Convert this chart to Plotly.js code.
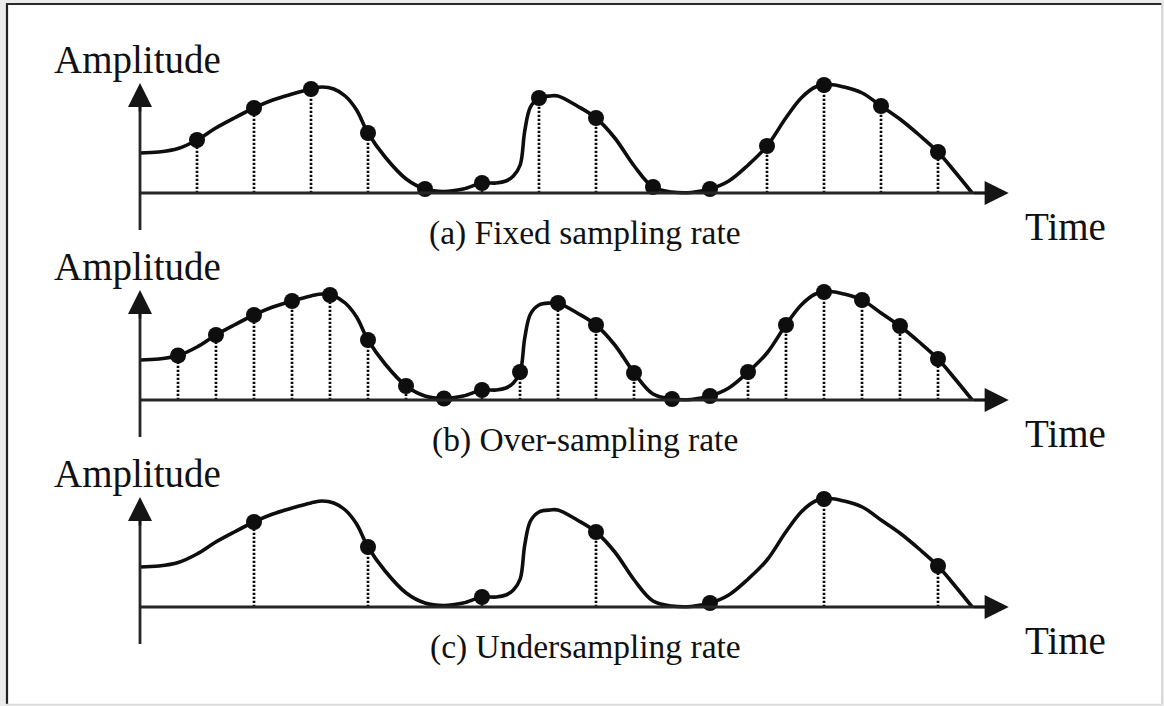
<!DOCTYPE html>
<html><head><meta charset="utf-8">
<script src="https://cdn.plot.ly/plotly-3.0.1.min.js"></script>
<style>html,body{margin:0;padding:0;background:#ececec}#chart{width:1164px;height:706px}</style>
</head><body><div id="chart"></div>
<script>
// ---- data ----
const curveTime = [0, 0.33, 0.67, 1, 1.33, 1.67, 2, 2.33, 2.67, 3, 3.2, 3.4, 3.6, 3.8, 4, 4.3, 4.67, 5, 5.33, 5.67, 6, 6.25, 6.42, 6.55, 6.67, 6.75, 6.85, 7, 7.2, 7.33, 7.67, 8, 8.33, 8.67, 9, 9.33, 9.67, 10, 10.33, 10.67, 11, 11.33, 11.6, 11.85, 12.1, 12.35, 12.67, 13, 13.33, 13.67, 14, 14.3, 14.6];
const curveAmp  = [0.40, 0.41, 0.445, 0.53, 0.65, 0.755, 0.85, 0.93, 0.99, 1.04, 1.06, 1.04, 0.97, 0.83, 0.60, 0.36, 0.14, 0.04, 0.015, 0.04, 0.10, 0.10, 0.12, 0.17, 0.28, 0.62, 0.86, 0.95, 0.97, 0.97, 0.87, 0.75, 0.55, 0.27, 0.06, 0.01, 0.005, 0.04, 0.12, 0.28, 0.47, 0.75, 0.95, 1.06, 1.085, 1.06, 1.00, 0.87, 0.74, 0.58, 0.41, 0.21, 0];

const fixedTime = [1, 2, 3, 4, 5, 6, 7, 8, 9, 10, 11, 12, 13, 14];
const fixedAmp  = [0.53, 0.85, 1.04, 0.60, 0.04, 0.10, 0.95, 0.75, 0.06, 0.04, 0.47, 1.08, 0.87, 0.41];

const overTime = [0.667, 1.333, 2, 2.667, 3.333, 4, 4.667, 5.333, 6, 6.667, 7.333, 8, 8.667, 9.333, 10, 10.667, 11.333, 12, 12.667, 13.333, 14];
const overAmp  = [0.445, 0.65, 0.85, 0.99, 1.05, 0.60, 0.14, 0.015, 0.10, 0.28, 0.97, 0.75, 0.27, 0.01, 0.04, 0.28, 0.75, 1.08, 1.00, 0.74, 0.41];

const underTime = [2, 4, 6, 8, 10, 12, 14];
const underAmp  = [0.85, 0.60, 0.10, 0.75, 0.04, 1.08, 0.41];

const panelCaptions = ["(a) Fixed sampling rate", "(b) Over-sampling rate", "(c) Undersampling rate"];
const yAxisLabel = "Amplitude";
const xAxisLabel = "Time";

// ---- drawing ----
const W = 1164, H = 706;
const ink = '#111111';
const axisInk = '#262626';
const fontFam = 'Liberation Serif, Times New Roman, serif';

const panels = [
  {t: fixedTime, a: fixedAmp, dom: [0.655807, 0.932011]},
  {t: overTime,  a: overAmp,  dom: [0.362606, 0.638810]},
  {t: underTime, a: underAmp, dom: [0.069405, 0.345609]}
];

const traces = [];
const shapes = [];
const annotations = [];
const layout = {
  width: W, height: H,
  margin: {l: 0, r: 0, t: 0, b: 0},
  paper_bgcolor: '#ececec',
  plot_bgcolor: 'rgba(0,0,0,0)',
  showlegend: false,
  font: {family: fontFam, color: ink}
};

// frame
shapes.push({type: 'rect', xref: 'paper', yref: 'paper', x0: 6/W, x1: 1162/W, y0: 1 - 704/H, y1: 1 - 3/H,
  fillcolor: '#ffffff', line: {width: 0}, layer: 'below'});
shapes.push({type: 'line', xref: 'paper', yref: 'paper', x0: 7/W, x1: 7/W, y0: 1 - 704/H, y1: 1 - 3/H,
  line: {color: '#222', width: 2.2}, layer: 'below'});
shapes.push({type: 'line', xref: 'paper', yref: 'paper', x0: 6/W, x1: 1162/W, y0: 1 - 4/H, y1: 1 - 4/H,
  line: {color: '#2a2a2a', width: 2.2}, layer: 'below'});
shapes.push({type: 'line', xref: 'paper', yref: 'paper', x0: 1162/W, x1: 1162/W, y0: 1 - 704/H, y1: 1 - 3/H,
  line: {color: '#cfcfcf', width: 1.5}, layer: 'below'});
shapes.push({type: 'line', xref: 'paper', yref: 'paper', x0: 6/W, x1: 1162/W, y0: 1 - 704.5/H, y1: 1 - 704.5/H,
  line: {color: '#d9d9d9', width: 1.5}, layer: 'below'});

const tMin = -140/57, tMax = tMin + W/57;

panels.forEach((p, i) => {
  const n = i === 0 ? '' : String(i + 1);
  const xa = 'x' + n, ya = 'y' + n;
  layout['xaxis' + n] = {domain: [0, 1], range: [tMin, tMax], visible: false, fixedrange: true};
  layout['yaxis' + n] = {domain: p.dom, range: [-0.5, 1.45], visible: false, fixedrange: true};

  // dotted stems
  const sx = [], sy = [];
  p.t.forEach((t, k) => { sx.push(t, t, null); sy.push(0, p.a[k], null); });
  traces.push({x: sx, y: sy, xaxis: xa, yaxis: ya, mode: 'lines', hoverinfo: 'skip',
    line: {color: '#0c0c0c', width: 2.7, dash: '2.2px,1.8px'}});

  // continuous signal
  traces.push({x: curveTime, y: curveAmp, xaxis: xa, yaxis: ya, mode: 'lines', hoverinfo: 'skip',
    line: {color: '#0e0e0e', width: 3.6, shape: 'spline', smoothing: 1.0}});

  // samples
  traces.push({x: p.t, y: p.a, xaxis: xa, yaxis: ya, mode: 'markers', hoverinfo: 'skip',
    marker: {color: '#0e0e0e', size: 16, line: {width: 0}}});

  // axes lines
  shapes.push({type: 'line', xref: xa, yref: ya, x0: 0, x1: 15.0, y0: 0, y1: 0,
    line: {color: axisInk, width: 2.8}});
  shapes.push({type: 'line', xref: xa, yref: ya, x0: 0, x1: 0, y0: -0.37, y1: 1.0,
    line: {color: axisInk, width: 2.8}});

  // arrow heads
  annotations.push({xref: xa, yref: ya, axref: xa, ayref: ya, x: 15.24, y: 0, ax: 14.6, ay: 0,
    text: '', showarrow: true, arrowhead: 2, arrowsize: 1.85, arrowwidth: 2.6, arrowcolor: '#151515', standoff: 0});
  annotations.push({xref: xa, yref: ya, axref: xa, ayref: ya, x: 0, y: 1.10, ax: 0, ay: 0.8,
    text: '', showarrow: true, arrowhead: 2, arrowsize: 1.85, arrowwidth: 2.6, arrowcolor: '#151515', standoff: 0});

  // labels
  annotations.push({xref: xa, yref: ya, x: -1.544, y: 1.332, xanchor: 'left', yanchor: 'middle',
    text: yAxisLabel, showarrow: false, font: {family: fontFam, size: 39, color: ink}});
  annotations.push({xref: xa, yref: ya, x: 15.49, y: -0.338, xanchor: 'left', yanchor: 'middle',
    text: xAxisLabel, showarrow: false, font: {family: fontFam, size: 39, color: ink}});
  annotations.push({xref: xa, yref: ya, x: 7.807, y: -0.397, xanchor: 'center', yanchor: 'middle',
    text: panelCaptions[i], showarrow: false, font: {family: fontFam, size: 33.5, color: ink}});
});

layout.shapes = shapes;
layout.annotations = annotations;

Plotly.newPlot('chart', traces, layout, {staticPlot: true, displayModeBar: false});
</script>
</body></html>
